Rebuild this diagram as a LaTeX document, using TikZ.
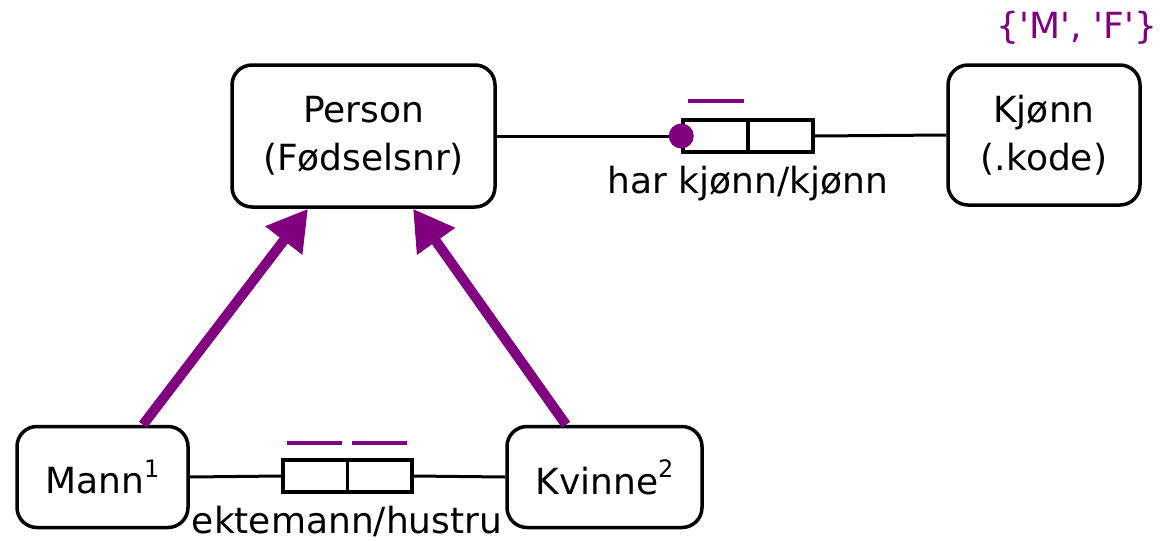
\documentclass[tikz,border=0pt]{standalone}
\usepackage{fontspec}
\setmainfont{DejaVu Sans}
\newfontfamily\kodefont{DejaVu Sans}[Ligatures=TeXOff]
\usepackage{xcolor}
\usepackage{tikz}
\usetikzlibrary{
	arrows.meta
}
\definecolor{arvlilla}{RGB}{128,0,128}
\newcommand{\hevet}[1]{\raisebox{0.85ex}{\fontsize{24}{24}\selectfont #1}}

\begin{document}
\begin{tikzpicture}[x=1pt,y=-1pt,
		font=\fontsize{36}{48}\selectfont,
		entitet/.style={draw,line width=3.5pt,rounded corners=20pt,align=center,inner sep=0pt},
		celle/.style={draw,line width=3.5pt,minimum height=32pt,inner sep=0pt},
		strek/.style={line width=3pt},
		unik/.style={line width=4pt,color=arvlilla},
		arv/.style={line width=10pt,color=arvlilla,-{Triangle[length=40pt,width=44pt]}}
	]
			\useasboundingbox (0,0) rectangle (1160,541);

			\node[entitet,minimum width=263pt,minimum height=142pt] (person) at (363.5,136) {Person\\(Fødselsnr)};
			\node[entitet,minimum width=192pt,minimum height=140pt] (kjonn)  at (1044,135)  {Kjønn\\(.kode)};
			\node[entitet,minimum width=171pt,minimum height=101pt] (mann)   at (102.5,477) {Mann\hevet{1}};
			\node[entitet,minimum width=195pt,minimum height=101pt] (kvinne) at (604.5,477) {Kvinne\hevet{2}};

			\node[celle,minimum width=65pt]   (hk1) at (715.5,136) {};
			\node[celle,minimum width=65pt]   (hk2) at (780.5,136) {};
			\node[celle,minimum width=64.5pt] (ek1) at (315.2,476) {};
			\node[celle,minimum width=64.5pt] (ek2) at (379.7,476) {};

			\draw[strek] (person.east) -- (hk1.west);
			\draw[strek] (hk2.east) -- (kjonn.west);
			\draw[strek] (mann.east) -- (ek1.west);
			\draw[strek] (ek2.east) -- (kvinne.west);

			\fill[arvlilla] (hk1.west) circle (12.5pt);
			\draw[unik] ([shift={(7,-17)}]hk1.north west) -- ([shift={(-6,-17)}]hk1.north east);
			\draw[unik] ([shift={(6,-15)}]ek1.north west) -- ([shift={(-7,-15)}]ek1.north east);
			\draw[unik] ([shift={(6,-15)}]ek2.north west) -- ([shift={(-7,-15)}]ek2.north east);

			\draw[arv] ([xshift=40.5pt]mann.north) -- ([xshift=-55.5pt]person.south);
			\draw[arv] ([xshift=-38.5pt]kvinne.north) -- ([xshift=49.5pt]person.south);

			\node (hktekst) at (748,184) {har kjønn/kjønn};
			\node (ektekst) at (347,521) {ektemann/hustru};
			\node[text=arvlilla] (koder) at (1077,28) {\kodefont\{'M', 'F'\}};
		\end{tikzpicture}
\end{document}
